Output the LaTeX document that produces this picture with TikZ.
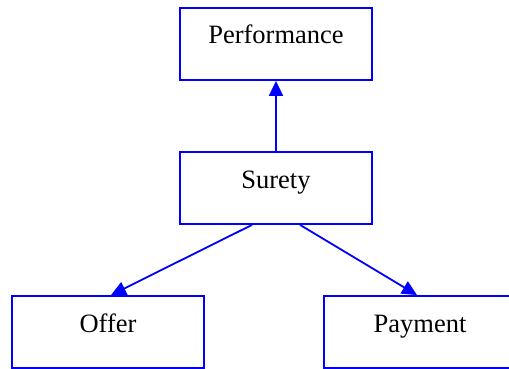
\documentclass[tikz,border=0pt]{standalone}
\usepackage{fontspec}
\setmainfont{Liberation Serif}
\usetikzlibrary{arrows.meta}

\tikzset{
  classbox/.style={draw=blue, line width=1.8pt, rectangle, inner sep=0pt,
    minimum width=192pt, text height=36pt, text depth=36pt,
    font=\fontsize{26.5}{30}\selectfont},
  link/.style={draw=blue, line width=1.8pt, -{Triangle[length=15pt,width=14pt]}}
}

\begin{document}
\begin{tikzpicture}[x=1pt,y=-1pt]
      \useasboundingbox (0,0) rectangle (509,369);
      % boxes
      \node[classbox] (performance) at (276,44) {Performance};
      \node[classbox] (surety) at (276,188) {Surety};
      \node[classbox] (offer) at (108,332) {Offer};
      \node[classbox] (payment) at (420,332) {Payment};
      % links
      \draw[link] (surety.north) -- (performance.south);
      \draw[link] ([xshift=-24pt]surety.south) -- ([xshift=3pt]offer.north);
      \draw[link] ([xshift=24pt]surety.south) -- ([xshift=-3pt]payment.north);
    \end{tikzpicture}
\end{document}
